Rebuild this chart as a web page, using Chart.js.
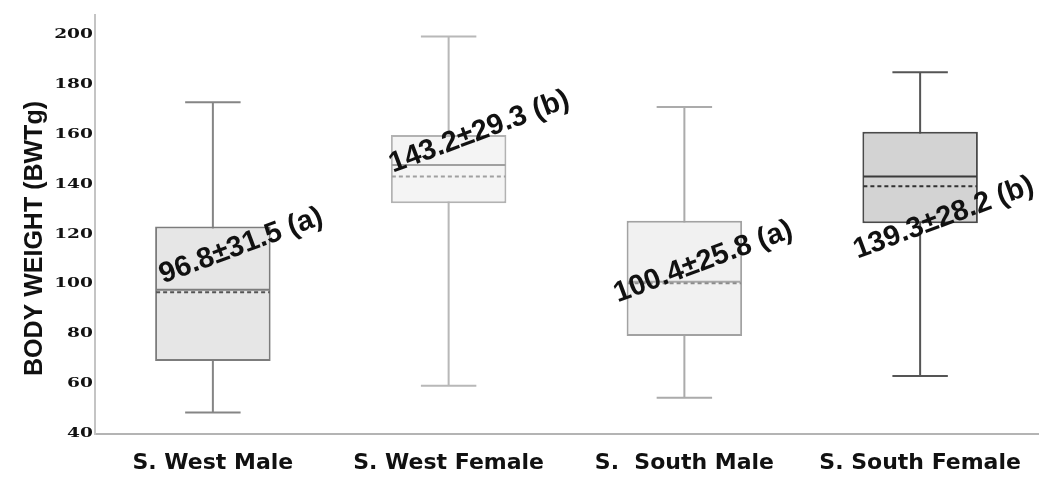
<!DOCTYPE html>
<html>
<head>
<meta charset="utf-8">
<script src="https://cdn.jsdelivr.net/npm/chart.js@4.4.1/dist/chart.umd.min.js"></script>
<style>
  html, body { margin: 0; padding: 0; background: #ffffff; }
  #wrap { width: 1041px; height: 483px; }
</style>
</head>
<body>
<div id="wrap"><canvas id="bw" width="1041" height="483"></canvas></div>
<script>
// Body weight (g) by population and sex
const groups = ['S. West Male', 'S. West Female', 'S.  South Male', 'S. South Female'];
const whiskerMin = [48.6, 59.3, 54.5, 63.3];
const quartile1 = [69.3, 132.5, 79.3, 124.5];
const medians = [97.8, 147.9, 101.0, 143.2];
const quartile3 = [123.2, 159.9, 125.5, 161.2];
const whiskerMax = [173.0, 199.4, 171.1, 185.0];
const means = [96.8, 143.2, 100.4, 139.3];
const sds = [31.5, 29.3, 25.8, 28.2];
const letters = ['a', 'b', 'a', 'b'];
const yTicks = [40, 60, 80, 100, 120, 140, 160, 180, 200];

// Per-box styling
const boxFill = ['#e6e6e6', '#f4f4f4', '#f1f1f1', '#d3d3d3'];
const boxLine = ['#7c7c7c', '#b2b2b2', '#a2a2a2', '#4a4a4a'];
const whiskerLine = ['#858585', '#b8b8b8', '#ababab', '#555555'];
const medianLine = ['#7c7c7c', '#a0a0a0', '#a8a8a8', '#3a3a3a'];
const meanLine = ['#555555', '#a0a0a0', '#8c8c8c', '#333333'];

// Annotation placement: offset along the category axis, value on the y axis
const noteShift = [0.12, 0.13, 0.08, 0.10];
const noteLevel = [115.4, 161.1, 109.0, 126.6];

const noteText = means.map((m, i) => `${m.toFixed(1)}\u00b1${sds[i].toFixed(1)} (${letters[i]})`);

const boxDecor = {
  id: 'boxDecor',
  beforeDatasetsDraw(chart) {
    const { ctx, scales: { x, y } } = chart;
    const bars = chart.getDatasetMeta(0).data;
    bars.forEach((bar, i) => {
      const cx = x.getPixelForValue(i);
      const capHalf = bar.width * 0.24;
      const yMax = y.getPixelForValue(whiskerMax[i]);
      const yMin = y.getPixelForValue(whiskerMin[i]);
      ctx.save();
      ctx.strokeStyle = whiskerLine[i];
      ctx.lineWidth = 2;
      ctx.beginPath();
      ctx.moveTo(cx, yMax); ctx.lineTo(cx, yMin);
      ctx.moveTo(cx - capHalf, yMax); ctx.lineTo(cx + capHalf, yMax);
      ctx.moveTo(cx - capHalf, yMin); ctx.lineTo(cx + capHalf, yMin);
      ctx.stroke();
      ctx.restore();
    });
  },
  afterDatasetsDraw(chart) {
    const { ctx, scales: { y } } = chart;
    const bars = chart.getDatasetMeta(0).data;
    bars.forEach((bar, i) => {
      const left = bar.x - bar.width / 2 + 1;
      const right = bar.x + bar.width / 2 - 1;
      ctx.save();
      // median
      ctx.strokeStyle = medianLine[i];
      ctx.lineWidth = 2;
      ctx.beginPath();
      const ym = y.getPixelForValue(medians[i]);
      ctx.moveTo(left, ym); ctx.lineTo(right, ym);
      ctx.stroke();
      // mean
      ctx.strokeStyle = meanLine[i];
      ctx.setLineDash([4, 3]);
      ctx.beginPath();
      const ya = y.getPixelForValue(means[i]);
      ctx.moveTo(left, ya); ctx.lineTo(right, ya);
      ctx.stroke();
      ctx.restore();
    });
  },
  afterDraw(chart) {
    const { ctx, chartArea, scales: { x, y } } = chart;
    // y tick labels, wide bold serif
    ctx.save();
    ctx.fillStyle = '#111111';
    ctx.font = 'bold 12px "DejaVu Serif"';
    ctx.textAlign = 'right';
    ctx.textBaseline = 'middle';
    y.ticks.forEach(t => {
      ctx.save();
      ctx.translate(chartArea.left - 2, y.getPixelForValue(t.value));
      ctx.scale(1.55, 1);
      ctx.fillText(String(t.value), 0, 0);
      ctx.restore();
    });
    ctx.restore();

    // y axis title
    ctx.save();
    ctx.translate(35, (chartArea.top + chartArea.bottom) / 2 + 14);
    ctx.rotate(-Math.PI / 2);
    ctx.fillStyle = '#111111';
    ctx.font = 'bold 25px "Liberation Sans"';
    ctx.textAlign = 'center';
    ctx.textBaseline = 'middle';
    ctx.fillText('BODY WEIGHT (BWTg)', 0, 0);
    ctx.restore();

    // mean ± SD annotations
    noteText.forEach((txt, i) => {
      ctx.save();
      ctx.translate(x.getPixelForValue(i + noteShift[i]), y.getPixelForValue(noteLevel[i]));
      ctx.rotate(-20.5 * Math.PI / 180);
      ctx.fillStyle = '#111111';
      ctx.font = 'bold 29px "Liberation Sans"';
      ctx.textAlign = 'center';
      ctx.textBaseline = 'middle';
      ctx.fillText(txt, 0, 0);
      ctx.restore();
    });
  }
};

new Chart(document.getElementById('bw'), {
  type: 'bar',
  data: {
    labels: groups,
    datasets: [{
      data: groups.map((g, i) => [quartile1[i], quartile3[i]]),
      backgroundColor: boxFill,
      borderColor: boxLine,
      borderWidth: 2,
      borderSkipped: false,
      barPercentage: 0.49,
      categoryPercentage: 1
    }]
  },
  options: {
    responsive: false,
    animation: false,
    devicePixelRatio: 1,
    layout: { padding: { left: 95, top: 15, right: 3, bottom: 0 } },
    plugins: { legend: { display: false }, tooltip: { enabled: false } },
    scales: {
      x: {
        afterFit: s => { s.height = 49; },
        grid: { display: false, drawTicks: false },
        border: { display: true, color: '#b4b4b4', width: 2 },
        ticks: {
          color: '#111111',
          font: { family: 'DejaVu Sans', weight: 'bold', size: 22 },
          padding: 16,
          maxRotation: 0,
          autoSkip: false
        }
      },
      y: {
        min: 40,
        max: 208,
        afterBuildTicks: s => { s.ticks = yTicks.map(v => ({ value: v })); },
        grid: { display: false, drawTicks: false },
        border: { display: true, color: '#c4c4c4', width: 2 },
        ticks: { display: false }
      }
    }
  },
  plugins: [boxDecor]
});
</script>
</body>
</html>
